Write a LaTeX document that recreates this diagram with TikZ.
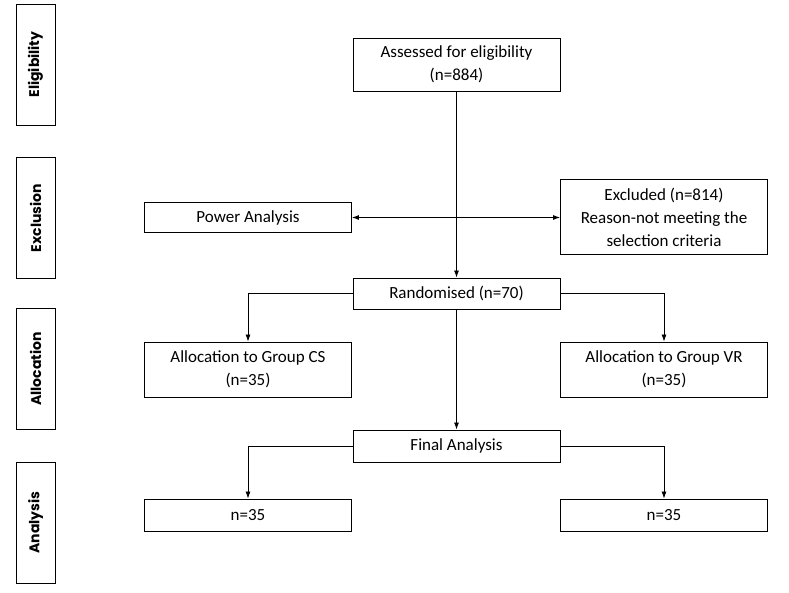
\documentclass[tikz,border=0pt]{standalone}
\usepackage{fontspec}
\setmainfont{Carlito}
\newfontfamily\sidefont{Poppins}
\usetikzlibrary{arrows.meta}
\begin{document}
\begin{tikzpicture}[x=1pt, y=-1pt,
                    every node/.style = {draw, line width=0.9pt, align=center,
                        font=\fontsize{17}{23}\selectfont, inner sep=2pt},
                    box/.style = {minimum width=207pt},
                    side/.style = {rotate=90, minimum width=121pt, minimum height=39pt,
                        font=\sidefont\bfseries\fontsize{14}{16}\selectfont},
                    link/.style = {line width=0.8pt, -{Latex[length=7pt,width=5pt]}}]
    \useasboundingbox (0,0) rectangle (789,593);
    \node[side] (elig) at (35.5,64.5) {Eligibility};
    \node[side] (excl) at (35.5,218) {Exclusion};
    \node[side] (alloc) at (35.5,369) {Allocation};
    \node[side] (anal) at (35.5,522.5) {Analysis};
    \node[box, minimum height=53pt] (assessed) at (456.5,64.5) {Assessed for eligibility\\(n=884)};
    \node[box, minimum height=30pt] (power) at (248,217.5) {Power Analysis};
    \node[box, minimum height=75pt] (excluded) at (664,217) {Excluded (n=814)\\Reason-not meeting the\\selection criteria};
    \node[box, minimum height=31pt] (random) at (456.5,293.5) {Randomised (n=70)};
    \node[box, minimum height=55pt] (groupcs) at (248,369.5) {Allocation to Group CS\\(n=35)};
    \node[box, minimum height=55pt] (groupvr) at (664,369.5) {Allocation to Group VR\\(n=35)};
    \node[box, minimum height=32pt] (final) at (456.5,446) {Final Analysis};
    \node[box, minimum height=32pt] (ncs) at (248,515) {n=35};
    \node[box, minimum height=32pt] (nvr) at (664,515) {n=35};
    \draw[link] (assessed) -- (random);
    \draw[link, {Latex[length=7pt,width=5pt]}-{Latex[length=7pt,width=5pt]}] (power.east) -- (power.east -| excluded.west);
    \draw[link] (random.west) -| (groupcs.north);
    \draw[link] (random.east) -| (groupvr.north);
    \draw[link] (random) -- (final);
    \draw[link] (final.west) -| (ncs.north);
    \draw[link] (final.east) -| (nvr.north);
\end{tikzpicture}
\end{document}
